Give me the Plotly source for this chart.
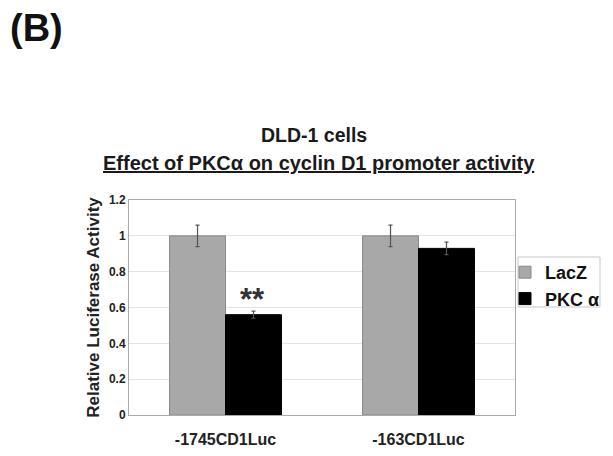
import plotly.graph_objects as go

categories = ["-1745CD1Luc", "-163CD1Luc"]
lacz_values = [1.0, 1.0]
lacz_errors = [0.06, 0.06]
pkc_values = [0.56, 0.93]
pkc_errors = [0.02, 0.035]
y_ticks = [0, 0.2, 0.4, 0.6, 0.8, 1, 1.2]
y_tick_labels = ["0", "0.2", "0.4", "0.6", "0.8", "1", "1.2"]

FONT = "Liberation Sans, Arial, sans-serif"

# page layout (reference pixel coords); the HTML body adds an 8px offset
OFF = 8
PL, PR, PT, PB = 129, 515, 200, 415
PW, PH = PR - PL, PB - PT


def px(x):
    return (x - PL) / PW


def py(y):
    return (PB - y) / PH


fig = go.Figure()
fig.add_trace(go.Bar(
    x=categories, y=lacz_values, name="<b>LacZ</b>",
    marker=dict(color="#a8a8a8", line=dict(color="#8a8a8a", width=1)),
    error_y=dict(type="data", array=lacz_errors, color="#555555", thickness=1.2, width=2),
))
fig.add_trace(go.Bar(
    x=categories, y=pkc_values, name="<b>PKC α</b>",
    marker=dict(color="#000000", line=dict(color="#000000", width=1)),
    error_y=dict(type="data", array=pkc_errors, color="#555555", thickness=1.2, width=2),
))

fig.add_annotation(x=categories[0], y=pkc_values[0] + 0.085, xshift=27, text="<b>**</b>",
                   showarrow=False, yanchor="middle",
                   font=dict(family=FONT, size=31, color="#333333"))

fig.add_annotation(xref="paper", yref="paper", x=px(313.5), y=py(135),
                   xanchor="center", yanchor="middle",
                   text="<b>DLD-1 cells</b>", showarrow=False,
                   font=dict(family=FONT, size=19.5, color="#1a1a1a"))
fig.add_annotation(xref="paper", yref="paper", x=px(318.5), y=py(163),
                   xanchor="center", yanchor="middle",
                   text="<b><u>Effect of PKCα on cyclin D1 promoter activity</u></b>", showarrow=False,
                   font=dict(family=FONT, size=20, color="#1a1a1a"))
fig.add_annotation(xref="paper", yref="paper", x=px(OFF), y=py(28),
                   xanchor="left", yanchor="middle", text="<b>(B)</b>", showarrow=False,
                   font=dict(family=FONT, size=38, color="#111111"))

fig.add_shape(type="rect", xref="paper", yref="paper",
              x0=px(518), x1=px(600), y0=py(307), y1=py(257),
              line=dict(color="#c8c8c8", width=1), fillcolor="rgba(0,0,0,0)",
              layer="above")

fig.update_layout(
    width=613 - OFF, height=456 - OFF,
    margin=dict(l=PL - OFF, r=613 - PR, t=PT - OFF, b=456 - PB, autoexpand=False),
    paper_bgcolor="white", plot_bgcolor="white",
    barmode="group", bargap=0.42, bargroupgap=0,
    font=dict(family=FONT, color="#222222"),
    showlegend=True,
    legend=dict(x=px(505), y=py(254), xanchor="left", yanchor="top",
                bgcolor="rgba(0,0,0,0)", borderwidth=0,
                font=dict(family=FONT, size=18, color="#111111"),
                itemwidth=30, tracegroupgap=0),
    xaxis=dict(showline=True, linecolor="#aaaaaa", mirror=True, ticks="", automargin=False,
               tickfont=dict(family=FONT, size=16, color="#222222"),
               ticklabelstandoff=10,
               tickvals=categories, ticktext=["<b>" + c + "</b>" for c in categories]),
    yaxis=dict(range=[0, 1.2], tickvals=y_ticks, automargin=False,
               ticktext=["<b>" + t + "</b>" for t in y_tick_labels],
               showgrid=True, gridcolor="#e4e4e4", gridwidth=1,
               showline=True, linecolor="#aaaaaa", mirror=True, zeroline=False,
               tickfont=dict(family=FONT, size=12, color="#222222"),
               title=dict(text="<b>Relative Luciferase Activity</b>", standoff=4,
                          font=dict(family=FONT, size=17, color="#222222"))),
)

fig.write_html("out.html")
